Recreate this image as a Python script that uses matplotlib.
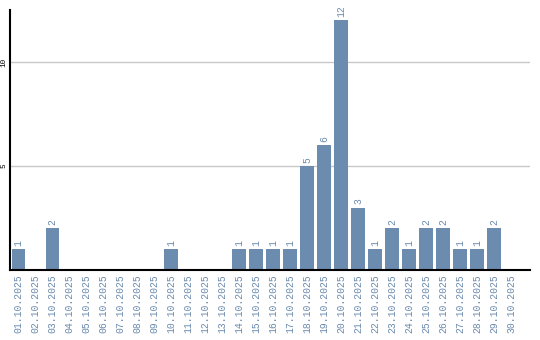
import matplotlib
matplotlib.use("Agg")
import matplotlib.pyplot as plt

dates = [f"{d:02d}.10.2025" for d in range(1, 31)]
values = [1, 0, 2, 0, 0, 0, 0, 0, 0, 1, 0, 0, 0, 1, 1, 1, 1, 5, 6, 12,
          3, 1, 2, 1, 2, 2, 1, 1, 2, 0]
yticks = [5, 10]

bar_color = "#6b8cae"
label_color = "#6a8aad"

fig = plt.figure(figsize=(5.4, 3.4), dpi=100)
ax = fig.add_axes([10/540, 1 - 270/340, 520/540, 260/340])

x = list(range(len(dates)))
ax.bar(x, values, width=0.82, color=bar_color, zorder=2)
for xi, v in zip(x, values):
    if v > 0:
        ax.text(xi, v + 0.15, str(v), rotation=90, ha="center", va="bottom",
                color=label_color, fontsize=7, family="Liberation Mono")

ax.set_xlim(-0.5, len(dates) + 0.1)
ax.set_ylim(0, 12.5)
ax.set_xticks(x)
ax.set_xticklabels(dates, rotation=90, family="Liberation Mono", fontsize=7,
                   color=label_color)
ax.set_yticks(yticks)
ax.set_yticklabels([str(t) for t in yticks], rotation=90, family="Liberation Mono",
                   fontsize=5.5, va="center")
ax.tick_params(axis="both", length=0, pad=3)
ax.tick_params(axis="y", pad=2)
ax.grid(axis="y", color="#c8c8c8", linewidth=1, zorder=0)
for s in ["top", "right"]:
    ax.spines[s].set_visible(False)
for s in ["left", "bottom"]:
    ax.spines[s].set_linewidth(1.5)
    ax.spines[s].set_color("black")
    ax.spines[s].set_zorder(3)

fig.savefig("out.png", dpi=100)
